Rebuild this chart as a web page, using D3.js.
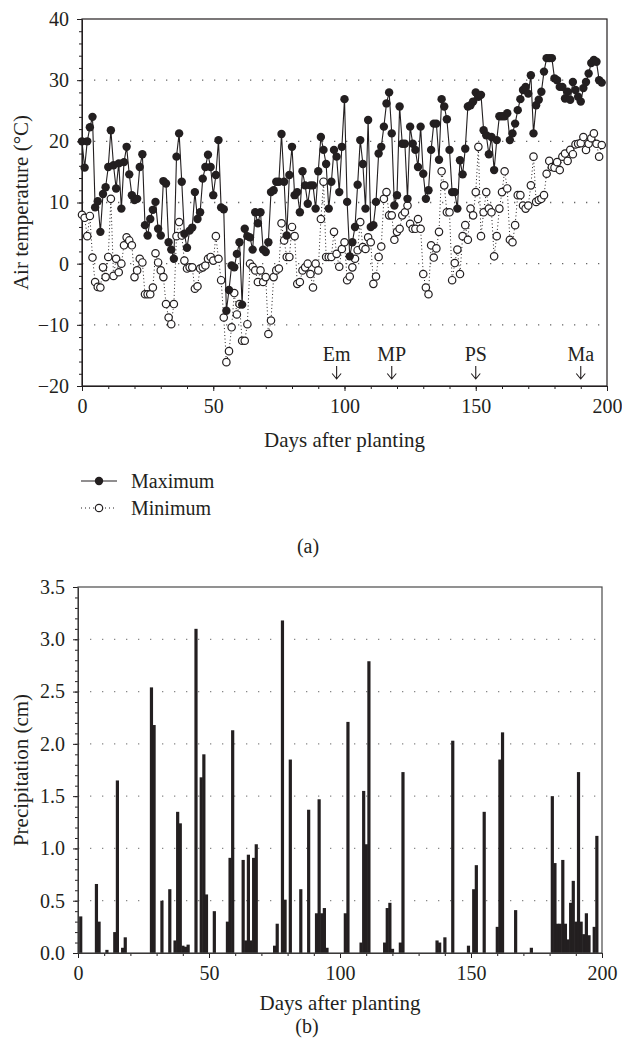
<!DOCTYPE html>
<html>
<head>
<meta charset="utf-8">
<script src="https://cdn.jsdelivr.net/npm/d3@7"></script>
<style>
  body { margin: 0; background: #fff; }
  text { font-family: "Liberation Serif", "DejaVu Serif", serif; fill: #231f20; }
</style>
</head>
<body>
<svg id="chart" width="622" height="1057"></svg>
<script>
// daily air temperature (deg C), day 0 .. 198
let maxTemp = [
  20.0, 15.7, 20.0, 22.3, 24.0, 9.2, 10.2, 5.2, 11.4, 12.5,
  15.8, 21.8, 16.1, 12.3, 16.4, 9.0, 16.6, 19.1, 14.6, 11.2,
  10.4, 10.6, 15.8, 17.9, 6.3, 4.6, 7.3, 8.8, 10.1, 5.7,
  4.6, 13.5, 13.1, 3.5, 2.3, 0.8, 17.5, 21.3, 13.4, 4.9,
  2.6, 5.4, 5.9, 11.7, 7.3, 8.4, 13.9, 15.8, 17.8, 15.8,
  11.2, 14.5, 20.2, 9.2, 8.9, -7.7, -4.3, -0.3, -0.6, 1.6,
  3.5, -6.7, 5.7, 4.5, 4.3, 2.3, 8.4, 6.6, 8.4, 2.3,
  1.9, 3.5, 11.7, 12.0, 13.4, 13.4, 21.2, 13.4, 4.6, 14.5,
  19.1, 11.2, 11.7, 8.4, 15.1, 12.8, 9.8, 12.8, 12.8, 9.0,
  15.1, 20.7, 18.6, 16.3, 9.0, 13.4, 18.6, 17.5, 11.7, 19.1,
  26.9, 10.1, 1.2, 3.5, 6.0, 12.9, 20.2, 16.3, 9.0, 23.5,
  6.0, 6.3, 10.1, 18.0, 19.1, 22.4, 26.2, 28.0, 21.3, 9.5,
  11.2, 25.7, 19.6, 19.6, 10.6, 22.4, 19.6, 18.6, 15.8, 22.4,
  14.7, 10.6, 12.0, 18.6, 22.9, 22.9, 17.0, 26.9, 25.7, 23.6,
  18.6, 11.7, 11.7, 9.0, 16.9, 14.6, 18.8, 25.7, 25.9, 26.5,
  28.0, 27.3, 27.6, 21.8, 21.0, 17.9, 20.7, 15.3, 20.2, 24.1,
  24.1, 24.1, 24.6, 20.2, 21.3, 22.9, 25.1, 26.9, 28.4, 28.9,
  27.8, 30.8, 21.3, 25.9, 26.8, 28.1, 31.4, 33.6, 33.6, 33.6,
  30.3, 30.0, 28.9, 28.9, 27.0, 28.1, 26.8, 29.7, 28.4, 27.3,
  26.5, 28.7, 29.7, 31.1, 32.8, 33.3, 33.0, 30.0, 29.6
];
let minTemp = [
  8.0, 7.5, 4.5, 7.8, 1.0, -3.0, -3.8, -3.9, -0.6, -2.2,
  1.1, 10.6, -2.0, 0.8, -1.4, 0.0, 3.0, 4.3, 3.8, 3.0,
  -2.2, -1.1, 0.8, 0.2, -5.0, -5.0, -5.0, -3.9, 1.7, 0.2,
  -1.1, -2.2, -6.6, -8.8, -9.9, -6.6, 4.5, 6.8, 4.6, 0.5,
  -0.8, -0.6, -0.6, -4.1, -3.7, -0.8, -0.6, -0.3, 0.8, 1.1,
  0.5, 4.5, 0.8, -2.7, -8.8, -16.1, -14.3, -10.4, -4.8, -8.3,
  -6.6, -12.6, -12.6, -9.9, 0.0, -0.5, -1.1, -3.0, -1.1, -3.0,
  -2.2, -11.5, -9.3, -2.2, -1.1, -0.8, 6.6, 3.8, 1.1, 1.1,
  6.0, 4.5, -3.3, -3.0, -1.1, -0.6, 0.0, -1.7, -3.9, 0.0,
  -1.1, 7.3, 13.4, 1.1, 1.1, 1.1, 5.2, 1.6, -0.5, 2.4,
  3.5, -2.7, -2.1, -0.6, 0.8, 2.2, 6.8, 2.7, 2.4, 4.3,
  3.5, -3.3, -2.1, 1.1, 2.8, 10.6, 11.7, 7.9, 7.9, 3.9,
  5.2, 5.7, 7.9, 8.4, 9.5, 6.5, 5.7, 5.7, 7.3, 5.7,
  -1.7, -3.9, -5.0, 3.0, 1.0, 2.5, 5.2, 15.1, 12.8, 8.4,
  8.4, -2.7, 0.1, 2.3, -1.7, 4.5, 6.3, 3.9, 9.0, 7.9,
  11.7, 19.1, 4.5, 8.4, 11.7, 9.0, 8.4, 1.2, 4.5, 9.0,
  11.7, 15.1, 12.3, 3.9, 3.5, 6.3, 11.2, 11.2, 9.5, 9.0,
  9.5, 12.8, 17.5, 10.1, 10.4, 10.6, 11.2, 14.7, 16.8, 15.8,
  15.7, 16.6, 15.3, 17.5, 18.0, 16.8, 18.6, 17.9, 19.5, 19.6,
  19.7, 20.7, 18.6, 19.6, 20.5, 21.3, 19.6, 17.5, 19.4
];

// growth stages
let stageNames = ['Em', 'MP', 'PS', 'Ma'];
let stageDays = [97, 118, 150, 190];

// precipitation (cm)
let rainDays = [1, 7, 8, 11, 14, 15, 17, 18, 28, 29, 32, 35, 37, 38, 39, 40, 41, 42,
  45, 47, 48, 49, 52, 57, 58, 59, 63, 64, 65, 66, 67, 68, 75, 76, 78, 79, 81, 85,
  88, 91, 92, 93, 94, 95, 102, 103, 108, 109, 110, 111, 117, 118, 119, 120, 123, 124,
  137, 138, 140, 143, 149, 151, 152, 155, 160, 161, 162, 167, 173, 181, 182, 183,
  184, 185, 186, 187, 188, 189, 190, 191, 192, 193, 194, 195, 197, 198];
let rainCm = [0.35, 0.66, 0.30, 0.03, 0.20, 1.65, 0.05, 0.15, 2.54, 2.18, 0.50, 0.61,
  0.12, 1.35, 1.24, 0.07, 0.06, 0.08, 3.10, 1.68, 1.90, 0.56, 0.40, 0.30, 0.91, 2.13,
  0.89, 0.12, 0.94, 0.12, 0.91, 1.04, 0.07, 0.28, 3.18, 0.51, 1.85, 0.61, 1.37, 0.38,
  1.47, 0.38, 0.43, 0.05, 0.38, 2.21, 0.10, 1.55, 1.04, 2.79, 0.10, 0.43, 0.48, 0.04,
  0.10, 1.73, 0.12, 0.10, 0.15, 2.03, 0.07, 0.61, 0.84, 1.35, 0.25, 1.85, 2.11, 0.41,
  0.05, 1.50, 0.86, 0.28, 0.28, 0.89, 0.28, 0.13, 0.48, 0.69, 0.30, 1.73, 0.30, 0.18,
  0.38, 0.17, 0.25, 1.12];

let tempTicks = [-20, -10, 0, 10, 20, 30, 40];
let rainTicks = [0, 0.5, 1.0, 1.5, 2.0, 2.5, 3.0, 3.5];
let dayTicks = [0, 50, 100, 150, 200];

let ink = '#231f20';
let svg = d3.select('#chart');

// ---------- (a) temperature ----------
let x1 = d3.scaleLinear().domain([0, 200]).range([82, 607]);
let y1 = d3.scaleLinear().domain([-20, 40]).range([386, 19]);

function styleAxis(g) {
  g.attr('font-family', '"Liberation Serif", serif').attr('font-size', 20);
  g.selectAll('line').attr('stroke', ink);
  g.selectAll('path').attr('stroke', ink);
  g.selectAll('text').attr('fill', ink);
}

// dotted grid
svg.append('g').selectAll('line')
  .data(tempTicks.filter(d => d > -20 && d < 40))
  .enter().append('line')
  .attr('x1', x1(0)).attr('x2', x1(200))
  .attr('y1', d => y1(d)).attr('y2', d => y1(d))
  .attr('stroke', '#666').attr('stroke-width', 1.3)
  .attr('stroke-dasharray', '1.3,10.7').attr('stroke-dashoffset', -12);

// minor ticks
svg.append('g').attr('transform', `translate(0,${y1(-20)})`)
  .call(d3.axisBottom(x1).tickValues(d3.range(0, 201, 10)).tickSize(3).tickFormat(''))
  .call(styleAxis).select('.domain').remove();
svg.append('g').attr('transform', `translate(${x1(0)},0)`)
  .call(d3.axisLeft(y1).tickValues(d3.range(-20, 41, 2)).tickSize(3).tickFormat(''))
  .call(styleAxis).select('.domain').remove();

svg.append('g').attr('transform', `translate(0,${y1(-20)})`)
  .call(d3.axisBottom(x1).tickValues(dayTicks).tickSize(5).tickPadding(8).tickSizeOuter(0))
  .call(styleAxis);
svg.append('g').attr('transform', `translate(${x1(0)},0)`)
  .call(d3.axisLeft(y1).tickValues(tempTicks).tickSize(5).tickPadding(8).tickSizeOuter(0))
  .call(styleAxis);

svg.append('rect')
  .attr('x', x1(0)).attr('y', y1(40))
  .attr('width', x1(200) - x1(0)).attr('height', y1(-20) - y1(40))
  .attr('fill', 'none').attr('stroke', ink).attr('stroke-width', 1.2);

let maxData = maxTemp.map((v, i) => ({ day: i, v: v }));
let minData = minTemp.map((v, i) => ({ day: i, v: v }));
let line1 = d3.line().x(d => x1(d.day)).y(d => y1(d.v));

svg.append('path').datum(minData).attr('d', line1)
  .attr('fill', 'none').attr('stroke', ink).attr('stroke-width', 1)
  .attr('stroke-dasharray', '1,2.5');
svg.append('path').datum(maxData).attr('d', line1)
  .attr('fill', 'none').attr('stroke', ink).attr('stroke-width', 1.1);

svg.append('g').selectAll('circle').data(minData).enter().append('circle')
  .attr('cx', d => x1(d.day)).attr('cy', d => y1(d.v)).attr('r', 3.7)
  .attr('fill', '#fff').attr('stroke', ink).attr('stroke-width', 1.2);
svg.append('g').selectAll('circle').data(maxData).enter().append('circle')
  .attr('cx', d => x1(d.day)).attr('cy', d => y1(d.v)).attr('r', 4.2)
  .attr('fill', ink);

// stage arrows
let stage = svg.append('g').selectAll('g')
  .data(stageNames.map((n, i) => ({ name: n, day: stageDays[i] })))
  .enter().append('g')
  .attr('transform', d => `translate(${x1(d.day)},0)`);
stage.append('text').attr('y', 361).attr('text-anchor', 'middle')
  .attr('font-size', 20).text(d => d.name);
stage.append('path').attr('d', 'M0,366V379M-4.5,373.5L0,379L4.5,373.5')
  .attr('fill', 'none').attr('stroke', ink).attr('stroke-width', 1.1);

svg.append('text').attr('x', (x1(0) + x1(200)) / 2).attr('y', 447)
  .attr('text-anchor', 'middle').attr('font-size', 21).text('Days after planting');
svg.append('text').attr('transform', `translate(28,${(y1(40) + y1(-20)) / 2}) rotate(-90)`)
  .attr('text-anchor', 'middle').attr('font-size', 21).text('Air temperature (°C)');

// legend
let legend = svg.append('g');
legend.append('line').attr('x1', 81).attr('x2', 117).attr('y1', 481).attr('y2', 481)
  .attr('stroke', ink).attr('stroke-width', 1.1);
legend.append('circle').attr('cx', 99).attr('cy', 481).attr('r', 4.2).attr('fill', ink);
legend.append('text').attr('x', 131).attr('y', 488).attr('font-size', 20).text('Maximum');
legend.append('line').attr('x1', 81).attr('x2', 117).attr('y1', 508).attr('y2', 508)
  .attr('stroke', ink).attr('stroke-width', 1).attr('stroke-dasharray', '1,3');
legend.append('circle').attr('cx', 99).attr('cy', 508).attr('r', 3.7)
  .attr('fill', '#fff').attr('stroke', ink).attr('stroke-width', 1.2);
legend.append('text').attr('x', 131).attr('y', 515).attr('font-size', 20).text('Minimum');

svg.append('text').attr('x', 308).attr('y', 553).attr('text-anchor', 'middle')
  .attr('font-size', 20).text('(a)');

// ---------- (b) precipitation ----------
let x2 = d3.scaleLinear().domain([0, 200]).range([78, 602]);
let y2 = d3.scaleLinear().domain([0, 3.5]).range([953, 587]);

svg.append('g').selectAll('line')
  .data(rainTicks.filter(d => d > 0 && d < 3.5))
  .enter().append('line')
  .attr('x1', x2(0)).attr('x2', x2(200))
  .attr('y1', d => y2(d)).attr('y2', d => y2(d))
  .attr('stroke', '#888').attr('stroke-width', 1.3)
  .attr('stroke-dasharray', '1.3,10.7').attr('stroke-dashoffset', -12);

svg.append('g').attr('transform', `translate(0,${y2(0)})`)
  .call(d3.axisBottom(x2).tickValues(d3.range(0, 201, 10)).tickSize(3).tickFormat(''))
  .call(styleAxis).select('.domain').remove();
svg.append('g').attr('transform', `translate(${x2(0)},0)`)
  .call(d3.axisLeft(y2).tickValues(d3.range(0, 35.1, 1).map(d => d / 10)).tickSize(3).tickFormat(''))
  .call(styleAxis).select('.domain').remove();

svg.append('g').selectAll('rect')
  .data(rainDays.map((d, i) => ({ day: d, v: rainCm[i] })))
  .enter().append('rect')
  .attr('x', d => x2(d.day) - 1.5).attr('width', 3.2)
  .attr('y', d => y2(d.v)).attr('height', d => y2(0) - y2(d.v))
  .attr('fill', ink);

svg.append('g').attr('transform', `translate(0,${y2(0)})`)
  .call(d3.axisBottom(x2).tickValues(dayTicks).tickSize(5).tickPadding(8).tickSizeOuter(0))
  .call(styleAxis);
svg.append('g').attr('transform', `translate(${x2(0)},0)`)
  .call(d3.axisLeft(y2).tickValues(rainTicks).tickSize(5).tickPadding(8).tickSizeOuter(0)
    .tickFormat(d3.format('.1f')))
  .call(styleAxis);

svg.append('rect')
  .attr('x', x2(0)).attr('y', y2(3.5))
  .attr('width', x2(200) - x2(0)).attr('height', y2(0) - y2(3.5))
  .attr('fill', 'none').attr('stroke', '#4a4a4a').attr('stroke-width', 1.2);

svg.append('text').attr('x', (x2(0) + x2(200)) / 2).attr('y', 1010)
  .attr('text-anchor', 'middle').attr('font-size', 21).text('Days after planting');
svg.append('text').attr('transform', `translate(28,${(y2(0) + y2(3.5)) / 2}) rotate(-90)`)
  .attr('text-anchor', 'middle').attr('font-size', 21).text('Precipitation (cm)');
svg.append('text').attr('x', 307).attr('y', 1033).attr('text-anchor', 'middle')
  .attr('font-size', 20).text('(b)');
</script>
</body>
</html>
